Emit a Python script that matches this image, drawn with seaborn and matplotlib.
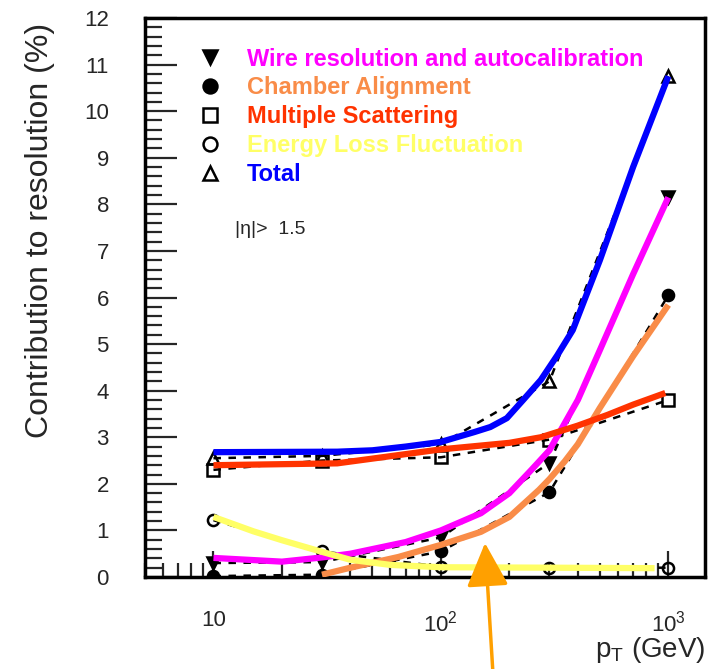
import matplotlib
matplotlib.use("Agg")
import matplotlib.pyplot as plt
import seaborn as sns
import pandas as pd
from matplotlib.lines import Line2D
from matplotlib.ticker import MultipleLocator, LogLocator, FixedLocator, FixedFormatter, NullFormatter

# --- Simulated points (black markers + dashed lines) ---
PT_POINTS = [10, 30, 100, 300, 1000]
WIRE_PTS = [0.30, 0.32, 0.85, 2.45, 8.15]
CHAMBER_PTS = [0.02, 0.05, 0.55, 1.82, 6.05]
SCATTER_PTS = [2.30, 2.50, 2.57, 2.95, 3.80]
ELOSS_PTS = [1.22, 0.55, 0.22, 0.20, 0.20]
TOTAL_PTS = [2.55, 2.60, 2.85, 4.20, 10.75]

# --- Hand drawn coloured curves ---
WIRE_CURVE_PT = [10, 20, 30, 40, 70, 100, 150, 200, 250, 300, 400, 500, 700, 1000]
WIRE_CURVE = [0.41, 0.33, 0.42, 0.50, 0.75, 1.00, 1.37, 1.80, 2.30, 2.72, 3.80, 4.87, 6.50, 8.15]
CHAMBER_CURVE_PT = [30, 40, 65, 100, 150, 200, 270, 300, 350, 400, 500, 700, 1000]
CHAMBER_CURVE = [0.05, 0.20, 0.43, 0.69, 0.97, 1.29, 1.87, 2.10, 2.48, 2.85, 3.63, 4.74, 5.84]
SCATTER_CURVE_PT = [10, 35, 100, 200, 275, 400, 540, 700, 970]
SCATTER_CURVE = [2.40, 2.44, 2.74, 2.88, 3.00, 3.25, 3.48, 3.70, 3.95]
ELOSS_CURVE_PT = [10, 15, 20, 30, 40, 60, 100, 300, 870]
ELOSS_CURVE = [1.29, 0.98, 0.79, 0.54, 0.37, 0.26, 0.21, 0.20, 0.19]
TOTAL_CURVE_PT = [10, 35, 50, 70, 100, 140, 165, 195, 230, 275, 325, 380, 500, 700, 1000]
TOTAL_CURVE = [2.68, 2.69, 2.72, 2.80, 2.90, 3.11, 3.22, 3.41, 3.80, 4.23, 4.76, 5.30, 6.80, 8.80, 10.75]

LABELS = ["Wire resolution and autocalibration", "Chamber Alignment",
          "Multiple Scattering", "Energy Loss Fluctuation", "Total"]
COLORS = ["#FF00FF", "#F98C48", "#FF3300", "#FFFF66", "#0000FF"]
MARKERS = ["v", "o", "s", "o", "^"]
FILLED = [True, True, False, False, False]

sns.set_theme(style="white")
plt.rcParams["font.family"] = ["Liberation Sans", "DejaVu Sans"]
plt.rcParams["mathtext.fontset"] = "custom"
plt.rcParams["mathtext.rm"] = "Liberation Sans"
plt.rcParams["mathtext.it"] = "Liberation Sans:italic"

fig = plt.figure(figsize=(7.08, 6.69), dpi=100)
ax = fig.add_axes([0.2048, 0.1375, 0.7910, 0.8356])

point_series = [WIRE_PTS, CHAMBER_PTS, SCATTER_PTS, ELOSS_PTS, TOTAL_PTS]
curve_series = [(WIRE_CURVE_PT, WIRE_CURVE), (CHAMBER_CURVE_PT, CHAMBER_CURVE),
                (SCATTER_CURVE_PT, SCATTER_CURVE), (ELOSS_CURVE_PT, ELOSS_CURVE),
                (TOTAL_CURVE_PT, TOTAL_CURVE)]

# --- black simulated points with dashed joins ---
for vals, mk, filled in zip(point_series, MARKERS, FILLED):
    df = pd.DataFrame({"pt": PT_POINTS, "val": vals})
    sns.lineplot(data=df, x="pt", y="val", ax=ax, color="black", lw=1.8,
                 linestyle=(0, (3, 3)), marker=mk, markersize=8,
                 markerfacecolor="black" if filled else "none",
                 markeredgecolor="black", markeredgewidth=1.8, zorder=2)

# --- coloured smooth curves on top ---
for (xs, ys), col in zip(curve_series, COLORS):
    df = pd.DataFrame({"pt": xs, "val": ys})
    sns.lineplot(data=df, x="pt", y="val", ax=ax, color=col, lw=4.5,
                 solid_capstyle="butt", zorder=3)

ax.set_xscale("log")
ax.set_xlim(5, 1450)
ax.set_ylim(0, 12)

ax.xaxis.set_major_locator(FixedLocator([10, 100, 1000]))
ax.xaxis.set_major_formatter(FixedFormatter(["10", r"$10^2$", r"$10^3$"]))
ax.xaxis.set_minor_locator(LogLocator(base=10, subs=range(2, 10), numticks=20))
ax.xaxis.set_minor_formatter(NullFormatter())
ax.yaxis.set_major_locator(MultipleLocator(1))
ax.yaxis.set_minor_locator(MultipleLocator(0.2))

ax.tick_params(axis="y", which="major", direction="in", length=23, width=1.6,
               labelsize=16, pad=26, left=True, right=False)
ax.tick_params(axis="y", which="minor", direction="in", length=12, width=1.6,
               left=True, right=False)
ax.tick_params(axis="x", which="major", direction="in", length=19, width=1.6,
               labelsize=16, pad=24, bottom=True, top=False)
ax.tick_params(axis="x", which="minor", direction="in", length=10, width=1.6,
               bottom=True, top=False)

for sp in ax.spines.values():
    sp.set_linewidth(2.5)
    sp.set_color("black")

ax.set_xlabel(r"p$_{\mathrm{T}}$ (GeV)", fontsize=20, loc="right", labelpad=-1)
ax.set_ylabel("Contribution to resolution (%)", fontsize=23)
ax.yaxis.set_label_coords(-0.16, 0.62)

# --- legend ---
handles = [Line2D([], [], color="black", marker=mk, linestyle="none", markersize=10,
                  markerfacecolor="black" if f else "none", markeredgewidth=1.8)
           for mk, f in zip(MARKERS, FILLED)]
leg = ax.legend(handles, LABELS, loc="upper left", bbox_to_anchor=(0.079, 0.964),
                frameon=False, prop={"weight": "bold", "size": 17},
                labelcolor=COLORS, handlelength=1.0, handletextpad=1.05,
                labelspacing=0.25, borderaxespad=0)

ax.text(0.161, 0.621, "|η|>  1.5", transform=ax.transAxes, fontsize=14,
        ha="left", va="center")

# --- orange arrow pointing at the curves ---
ax.annotate("", xy=(485, 126), xycoords="figure pixels",
            xytext=(493, -5), textcoords="figure pixels",
            arrowprops=dict(arrowstyle="-|>,head_length=1.35,head_width=0.65",
                            color="#FFA000", lw=2.5, mutation_scale=20,
                            shrinkA=0, shrinkB=0),
            annotation_clip=False, zorder=5)

fig.savefig("out.png", dpi=100)
